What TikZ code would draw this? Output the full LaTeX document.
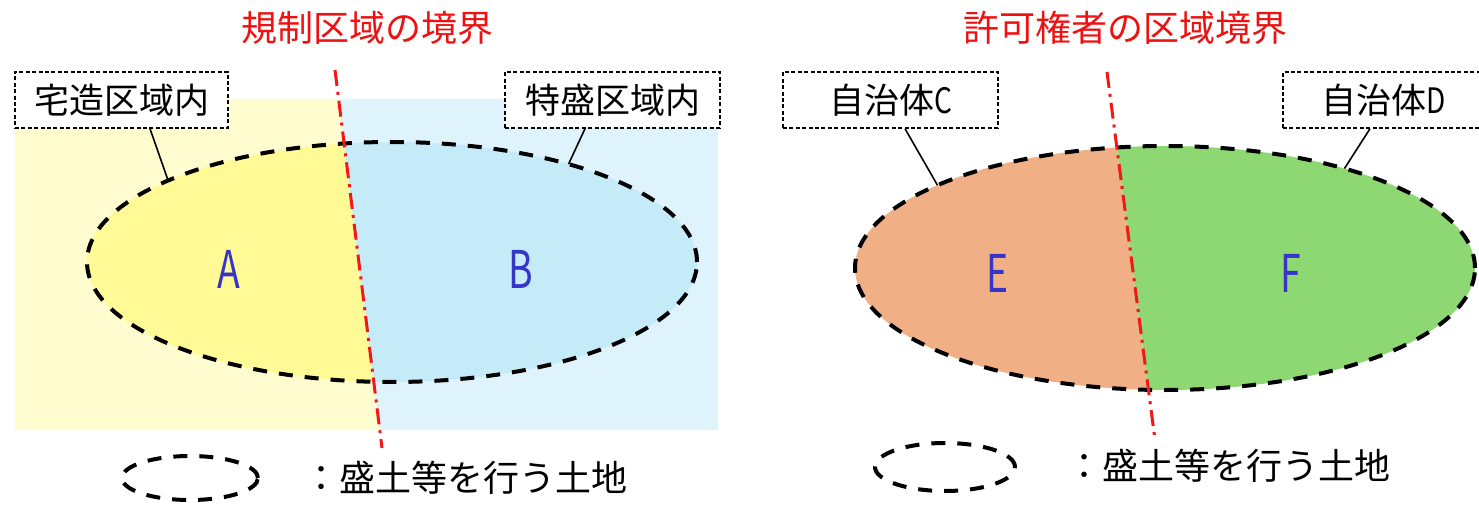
\documentclass[tikz,border=0pt]{standalone}
\usepackage{fontspec}
\usepackage{graphicx}
\setmainfont{Noto Sans CJK JP}
\usetikzlibrary{shapes.geometric}
\definecolor{bgyellow}{HTML}{FFFCCF}
\definecolor{bgblue}{HTML}{DFF3FC}
\definecolor{partyellow}{HTML}{FFFA96}
\definecolor{partblue}{HTML}{C6EBF8}
\definecolor{partorange}{HTML}{F0AF85}
\definecolor{partgreen}{HTML}{8DD873}
\definecolor{linered}{HTML}{F01818}
\definecolor{titlered}{HTML}{EE1111}
\definecolor{letterblue}{HTML}{3535C8}
\begin{document}
\begin{tikzpicture}[x=0.5pt,y=-0.5pt,
  labelbox/.style={draw, line width=0.7pt, dash pattern=on 2pt off 1.2pt, fill=white,
    inner sep=0pt, minimum height=28pt, font=\fontsize{17.5}{20}\selectfont},
  land/.style={ellipse, draw, line width=2pt, dash pattern=on 7pt off 6pt, inner sep=0pt, outer sep=0pt},
  borderline/.style={linered, line width=1.5pt, dash pattern=on 8pt off 3pt on 1.5pt off 3pt},
  regionlabel/.style={text=letterblue, font=\fontsize{26}{30}\selectfont},
  titletext/.style={text=titlered, font=\fontsize{18}{22}\selectfont},
  legendtext/.style={font=\fontsize{18}{22}\selectfont},
  leader/.style={line width=0.8pt}]
\useasboundingbox (0,0) rectangle (1479,508);
\fill[white] (0,0) rectangle (1479,508);

% ---------- left panel ----------
\fill[bgyellow] (15,99) -- (338.6,99) -- (379.6,430) -- (15,430) -- cycle;
\fill[bgblue] (338.6,99) -- (718,99) -- (718,430) -- (379.6,430) -- cycle;
\begin{scope}
  \clip (0,0) -- (326.3,0) -- (390.8,520) -- (0,520) -- cycle;
  \fill[partyellow] (392,262) ellipse [x radius=152.5pt, y radius=60pt];
\end{scope}
\begin{scope}
  \clip (326.3,0) -- (740,0) -- (740,520) -- (390.8,520) -- cycle;
  \fill[partblue] (392,262) ellipse [x radius=152.5pt, y radius=60pt];
\end{scope}
\node[land, minimum width=305pt, minimum height=120pt] (ellL) at (392,262) {};
\coordinate (bLtop) at (335,70);
\coordinate (bLbot) at (382,448);
\draw[borderline] (bLtop) -- (bLbot);
\node[titletext] (titleL) at (367,28) {規制区域の境界};
\node[labelbox, minimum width=106.5pt] (boxA) at (121.5,100) {宅造区域内};
\node[labelbox, minimum width=107.5pt] (boxB) at (612.5,100) {特盛区域内};
\draw[leader] ([xshift=14.25pt]boxA.south) -- (ellL.160.5);
\draw[leader] ([xshift=-13.75pt]boxB.south) -- (ellL.29);
\node[regionlabel] (labA) at (229,269) {\scalebox{0.72}[1]{A}};
\node[regionlabel] (labB) at (521,269) {\scalebox{0.72}[1]{B}};
\node[land, minimum width=68pt, minimum height=22pt] (legL) at (190,478) {};
\node[legendtext] (legLtext) at (465,478) {：盛土等を行う土地};

% ---------- right panel ----------
\begin{scope}
  \clip (700,0) -- (1097.6,0) -- (1165.2,520) -- (700,520) -- cycle;
  \fill[partorange] (1165,268) ellipse [x radius=155pt, y radius=61pt];
\end{scope}
\begin{scope}
  \clip (1097.6,0) -- (1500,0) -- (1500,520) -- (1165.2,520) -- cycle;
  \fill[partgreen] (1165,268) ellipse [x radius=155pt, y radius=61pt];
\end{scope}
\node[land, minimum width=310pt, minimum height=122pt] (ellR) at (1165,268) {};
\coordinate (bRtop) at (1107,72);
\coordinate (bRbot) at (1155,440);
\draw[borderline] (bRtop) -- (bRbot);
\node[titletext] (titleR) at (1125,28) {許可権者の区域境界};
\node[labelbox, minimum width=107.5pt] (boxC) at (890.5,100) {自治体\scalebox{0.8}[1]{C}};
\node[labelbox, minimum width=101pt] (boxD) at (1384,100) {自治体\scalebox{0.8}[1]{D}};
\draw[leader] ([xshift=7.25pt]boxC.south) -- (ellR.160);
\draw[leader] ([xshift=-7pt]boxD.south) -- (ellR.29.5);
\node[regionlabel] (labE) at (998,273) {\scalebox{0.72}[1]{E}};
\node[regionlabel] (labF) at (1291,273) {\scalebox{0.72}[1]{F}};
\node[land, minimum width=70pt, minimum height=24pt] (legR) at (945,467) {};
\node[legendtext] (legRtext) at (1228,466) {：盛土等を行う土地};
\end{tikzpicture}
\end{document}
